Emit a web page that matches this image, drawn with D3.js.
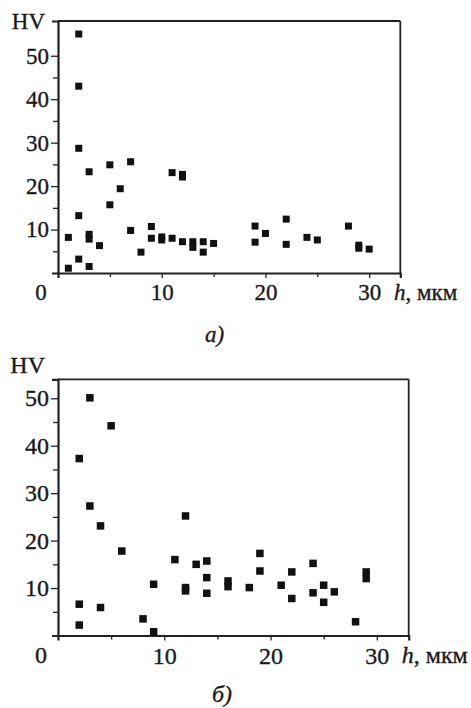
<!DOCTYPE html>
<html>
<head>
<meta charset="utf-8">
<script src="https://cdn.jsdelivr.net/npm/d3@7"></script>
<style>
body { margin: 0; background: #fff; }
svg text { font-family: "Liberation Serif", "Times New Roman", serif; fill: #1a1a1a; stroke: #1a1a1a; stroke-width: 0.35px; }
</style>
</head>
<body>
<svg id="chart" width="471" height="708"></svg>
<script>
// panel а)
var hA  = [1, 1, 2, 2, 2, 2, 2, 3, 3, 3, 3, 4, 5, 5, 6, 7, 7, 8, 9, 9, 10, 10, 11, 11, 12, 12, 12, 13, 13, 14, 14, 15, 19, 19, 20, 22, 22, 24, 25, 28, 29, 29, 30];
var hvA = [8.2, 1.1, 55, 43, 28.7, 13.2, 3.2, 23.3, 8.9, 7.8, 1.5, 6.3, 24.9, 15.7, 19.4, 25.6, 9.8, 4.8, 10.7, 8, 8.3, 7.6, 23.1, 8, 22.7, 22.1, 7.2, 7.2, 5.9, 7.2, 4.8, 6.8, 10.8, 7.1, 9.1, 12.4, 6.6, 8.2, 7.6, 10.8, 6.4, 5.7, 5.5];

// panel б)
var hB  = [2, 2, 2, 3, 3, 4, 4, 5, 6, 8, 9, 9, 11, 12, 12, 12, 13, 14, 14, 14, 16, 16, 18, 19, 19, 21, 22, 22, 24, 24, 25, 25, 26, 28, 29, 29];
var hvB = [37.3, 6.6, 2.2, 50.1, 27.3, 23.1, 5.9, 44.2, 17.8, 3.5, 10.8, 0.8, 16, 25.2, 10.1, 9.4, 15, 15.7, 12.2, 8.9, 11.5, 10.3, 10.1, 17.3, 13.6, 10.6, 13.4, 7.8, 15.2, 9, 10.6, 7, 9.2, 2.9, 13.4, 12];

// ticks (every 5, labelled every 10)
var yTicks = [5, 10, 15, 20, 25, 30, 35, 40, 45, 50];
var yLabels = [10, 20, 30, 40, 50];
var xTicks = [5, 10, 15, 20, 25, 30];
var xLabels = [10, 20, 30];
var xMax = 33;

var svg = d3.select("#chart");

function drawPanel(p) {
    var x = d3.scaleLinear().domain([0, xMax]).range([p.left, p.right]);
    var y = d3.scaleLinear().domain([0, p.yMax]).range([p.bottom, p.top]);
    var g = svg.append("g");
    var ink = "#222";

    // top and right sides of the frame
    g.append("line")
        .attr("x1", x(0)).attr("x2", x(xMax))
        .attr("y1", y(p.yMax)).attr("y2", y(p.yMax))
        .attr("stroke", ink).attr("stroke-width", 1.8);
    g.append("line")
        .attr("x1", x(xMax)).attr("x2", x(xMax))
        .attr("y1", y(p.yMax)).attr("y2", y(0))
        .attr("stroke", ink).attr("stroke-width", 1.8);

    var yAxis = g.append("g")
        .attr("transform", "translate(" + x(0) + ",0)")
        .call(d3.axisLeft(y)
            .tickValues(yTicks)
            .tickFormat(function(d) { return yLabels.indexOf(d) >= 0 ? d : ""; })
            .tickSizeInner(7).tickSizeOuter(6).tickPadding(2));

    var xAxis = g.append("g")
        .attr("transform", "translate(0," + y(0) + ")")
        .call(d3.axisBottom(x)
            .tickValues(xTicks)
            .tickFormat(function(d) { return xLabels.indexOf(d) >= 0 ? d : ""; })
            .tickSizeInner(5).tickSizeOuter(5).tickPadding(p.xPad));

    [yAxis, xAxis].forEach(function(a) {
        a.attr("font-size", p.fontSize).attr("font-family", null);
        a.select(".domain").attr("stroke", ink).attr("stroke-width", 2.2);
        a.selectAll(".tick line").attr("stroke", ink).attr("stroke-width", 1.3);
        a.selectAll(".tick text").attr("fill", "#1a1a1a");
    });
    yAxis.selectAll(".tick line").attr("x2", function(d) { return d % 10 ? -5 : -7; });
    xAxis.selectAll(".tick line").attr("y2", function(d) { return d % 10 ? 4 : 5; });

    // origin label sits left of the corner
    g.append("text")
        .attr("x", x(0) - 17)
        .attr("y", p.labelBase)
        .attr("text-anchor", "middle")
        .attr("font-size", p.fontSize)
        .text("0");

    g.append("text")
        .attr("x", 45)
        .attr("y", p.hvBase)
        .attr("text-anchor", "end")
        .attr("font-size", p.fontSize)
        .text("HV");

    var unit = g.append("text")
        .attr("x", p.unitX)
        .attr("y", p.labelBase)
        .attr("font-size", p.fontSize);
    unit.append("tspan").attr("font-style", "italic").text("h");
    unit.append("tspan").text(", мкм");

    g.append("text")
        .attr("x", p.capX)
        .attr("y", p.capBase)
        .attr("font-size", p.fontSize)
        .attr("font-style", "italic")
        .text(p.caption);

    var s = p.sq;
    g.selectAll("rect.pt")
        .data(p.h)
        .enter()
        .append("rect")
        .attr("class", "pt")
        .attr("x", function(d) { return x(d) - s / 2; })
        .attr("y", function(d, i) { return y(p.hv[i]) - s / 2; })
        .attr("width", s)
        .attr("height", s)
        .attr("fill", "#111");
}

drawPanel({
    h: hA, hv: hvA, yMax: 58,
    left: 58, right: 400.3, top: 21, bottom: 273,
    fontSize: 23, xPad: 6, sq: 7,
    labelBase: 300, hvBase: 29, unitX: 394,
    caption: "а)", capX: 205, capBase: 342
});

drawPanel({
    h: hB, hv: hvB, yMax: 54,
    left: 58, right: 408.7, top: 379.3, bottom: 635.5,
    fontSize: 24, xPad: 6, sq: 7.5,
    labelBase: 662.7, hvBase: 373, unitX: 401.7,
    caption: "б)", capX: 212, capBase: 702
});
</script>
</body>
</html>
